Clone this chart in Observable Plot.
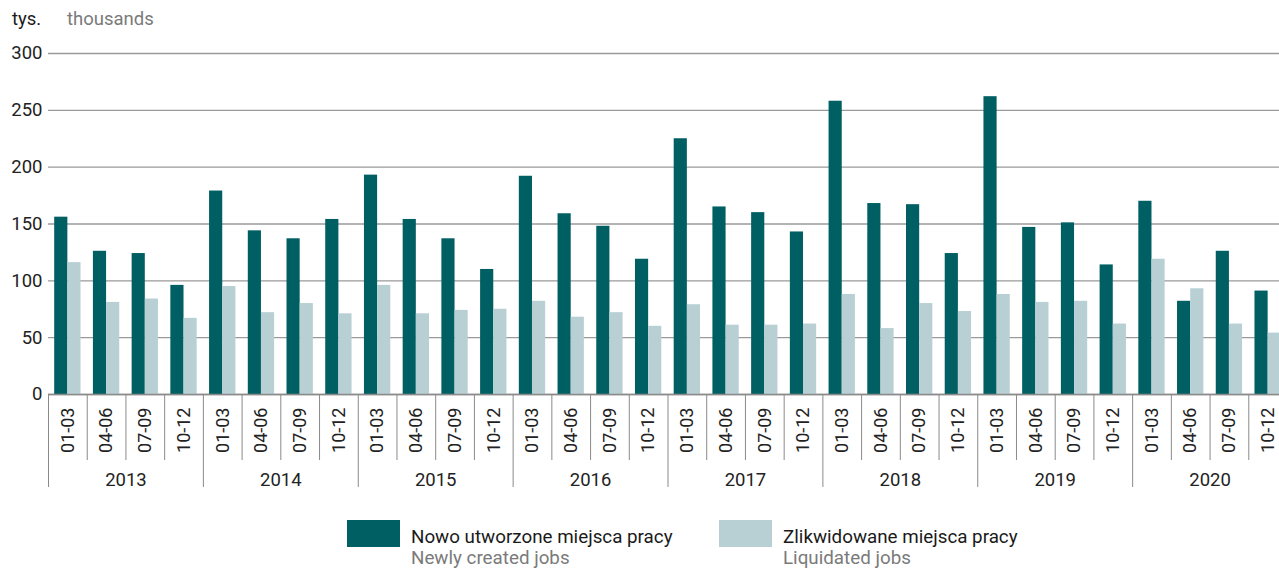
<!DOCTYPE html>
<html>
<head>
<meta charset="utf-8">
<script src="https://cdn.jsdelivr.net/npm/d3@7"></script>
<script src="https://cdn.jsdelivr.net/npm/@observablehq/plot@0.6"></script>
<style>
  html, body { margin: 0; padding: 0; background: #fff; overflow: hidden; }
  body { font-family: Roboto, "Noto Sans", sans-serif; width: 1279px; height: 568px; position: relative; }
  #head { position: absolute; left: 0; top: 0; height: 40px; width: 1279px; font-size: 18.5px; }
  #head .pl { position: absolute; left: 12px; top: 8px; color: #1a1a1a; }
  #head .en { position: absolute; left: 67px; top: 8px; color: #7a7a7a; }
  #chart { position: absolute; left: 0; top: 40px; }
  #chart svg { overflow: visible; }
  .leg { position: absolute; top: 520px; display: flex; }
  .sw { width: 53px; height: 27px; margin-right: 11px; }
  .lt { font-size: 18.8px; line-height: 21px; padding-top: 7px; }
  .lt .en { color: #7a7a7a; }
  .lt .pl { color: #1a1a1a; }
</style>
</head>
<body>
<div id="head"><span class="pl">tys.</span><span class="en">thousands</span></div>
<div id="chart"></div>
<div id="legend"></div>
<script>
const years = [2013, 2014, 2015, 2016, 2017, 2018, 2019, 2020];
const quarters = ["01-03", "04-06", "07-09", "10-12"];
const newJobs = [156, 126, 124, 96, 179, 144, 137, 154, 193, 154, 137, 110, 192, 159, 148, 119,
                 225, 165, 160, 143, 258, 168, 167, 124, 262, 147, 151, 114, 170, 82, 126, 91];
const liquidatedJobs = [116, 81, 84, 67, 95, 72, 80, 71, 96, 71, 74, 75, 82, 68, 72, 60,
                        79, 61, 61, 62, 88, 58, 80, 73, 88, 81, 82, 62, 119, 93, 62, 54];
const seriesPL = ["Nowo utworzone miejsca pracy", "Zlikwidowane miejsca pracy"];
const seriesEN = ["Newly created jobs", "Liquidated jobs"];
const colors = ["#005f63", "#b8d0d4"];
const yTicks = [0, 50, 100, 150, 200, 250, 300];

// build table
const rows = [];
years.forEach((yr, yi) => quarters.forEach((q, qi) => {
  const i = yi * quarters.length + qi;
  rows.push({i, year: yr, quarter: q, series: seriesPL[0], value: newJobs[i]});
  rows.push({i, year: yr, quarter: q, series: seriesPL[1], value: liquidatedJobs[i]});
}));
const n = years.length * quarters.length;
const idx = d3.range(n);
const halfBar = 0.34;

const quarterLines = idx.filter(i => i % quarters.length !== 0);
const yearLines = idx.filter(i => i % quarters.length === 0);
const quarterCenters = idx.map(i => i + 0.5);
const yearCenters = years.map((y, k) => k * quarters.length + quarters.length / 2);

const chart = Plot.plot({
  width: 1279,
  height: 460,
  marginLeft: 48,
  marginRight: -8,
  marginTop: 13,
  marginBottom: 106,
  style: {fontFamily: "Roboto, sans-serif", color: "#222", background: "transparent", overflow: "visible"},
  x: {type: "linear", domain: [0, n], axis: null},
  y: {domain: [0, 300], axis: null},
  marks: [
    Plot.gridY(yTicks, {stroke: "#9a9a9a", strokeOpacity: 1, strokeWidth: 1.4}),
    Plot.axisY(yTicks, {tickSize: 0, tickPadding: 6, fontSize: 18.5, fill: "#222", label: null}),
    Plot.rectY(rows.filter(d => d.series === seriesPL[0]), {
      x1: d => d.i + 0.5 - halfBar, x2: d => d.i + 0.5, y: "value", fill: colors[0]
    }),
    Plot.rectY(rows.filter(d => d.series === seriesPL[1]), {
      x1: d => d.i + 0.5, x2: d => d.i + 0.5 + halfBar, y: "value", fill: colors[1]
    }),
    Plot.axisX(quarterLines, {tickSize: 66, tickFormat: () => "", stroke: "#8a8a8a", label: null}),
    Plot.axisX(yearLines, {tickSize: 93, tickFormat: () => "", stroke: "#8a8a8a", label: null}),
    Plot.axisX(quarterCenters, {
      tickSize: 0, tickPadding: 13, tickRotate: -90, fontSize: 18, fill: "#222", label: null,
      tickFormat: v => quarters[Math.floor(v) % quarters.length]
    }),
    Plot.axisX(yearCenters, {
      tickSize: 0, tickPadding: 78, fontSize: 18.5, fill: "#222", label: null,
      tickFormat: v => String(years[Math.floor(v / quarters.length)])
    }),
    Plot.ruleY([0], {stroke: "#8a8a8a", strokeWidth: 1.4})
  ]
});
document.getElementById("chart").appendChild(chart);

// legend
const lefts = [347, 719];
const legend = document.getElementById("legend");
seriesPL.forEach((s, k) => {
  const item = document.createElement("div");
  item.className = "leg";
  item.style.left = lefts[k] + "px";
  item.innerHTML = `<div class="sw" style="background:${colors[k]}"></div>` +
    `<div class="lt"><div class="pl">${s}</div><div class="en">${seriesEN[k]}</div></div>`;
  legend.appendChild(item);
});
</script>
</body>
</html>
